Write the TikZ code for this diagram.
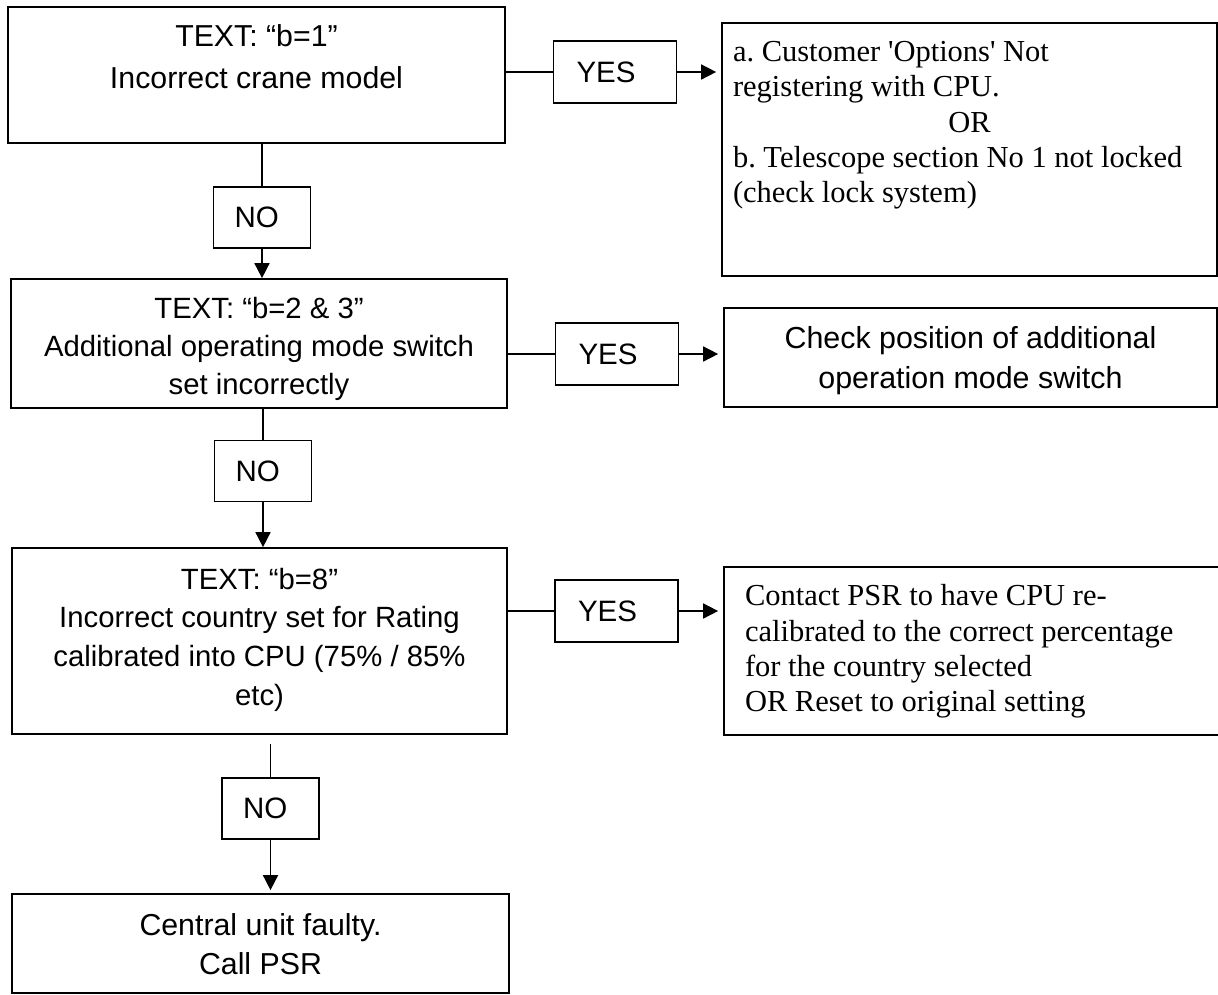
\documentclass[tikz,border=0pt]{standalone}
\usepackage{fontspec}
\newfontfamily\sansfam{Liberation Sans}
\newfontfamily\seriffam{Liberation Serif}[Ligatures=TeXOff]
\usetikzlibrary{arrows.meta}
\frenchspacing

% top-aligned text block: #1 height, #2 width, #3 first baseline from top, #4 alignment, #5 lines
\newcommand{\topbox}[5]{\parbox[c][#1][t]{#2}{#4\rule{0pt}{#3}#5}}

\tikzset{
  box/.style={draw, line width=1.7pt, rectangle, inner sep=0pt},
  tagbox/.style={draw, line width=1.7pt, rectangle, align=left, inner ysep=0pt,
    font=\sansfam\fontsize{29.5}{35}\selectfont},
  yesbox/.style={tagbox, minimum height=62pt, text width=77pt, inner xsep=23pt},
  nobox/.style={tagbox, minimum height=61pt, text width=55pt, inner xsep=21pt},
  conn/.style={line width=1.6pt},
  arr/.style={conn, -{Triangle[length=15pt,width=15pt]}},
}

\begin{document}
\begin{tikzpicture}[x=1pt, y=-1pt]
\useasboundingbox (0,0) rectangle (1218,994);

% decision boxes
\node[box, font=\sansfam\fontsize{30.3}{41.6}\selectfont] (b1) at (256.5,75)
  {\topbox{136pt}{497pt}{39.7pt}{\centering}{TEXT: “b=1”\\ Incorrect crane model}};
\node[box, font=\sansfam\fontsize{29.3}{38.3}\selectfont] (b2) at (259,343.5)
  {\topbox{129pt}{496pt}{39.3pt}{\centering}{TEXT: “b=2 \& 3”\\ Additional operating mode switch\\ set incorrectly}};
\node[box, font=\sansfam\fontsize{29.3}{38.6}\selectfont] (b3) at (259.5,641)
  {\topbox{186pt}{495pt}{41.3pt}{\centering}{TEXT: “b=8”\\ Incorrect country set for Rating\\ calibrated into CPU (75\% / 85\%\\ etc)}};
\node[box, font=\sansfam\fontsize{30.3}{39.3}\selectfont] (b4) at (260.5,943.5)
  {\topbox{99pt}{497pt}{41pt}{\centering}{Central unit faulty.\\ Call PSR}};

% remedy boxes
\node[box, font=\seriffam\fontsize{30.5}{35.2}\selectfont] (r1) at (969.5,149.5)
  {\topbox{253pt}{495pt}{38.7pt}{\raggedright\leftskip=11pt}{a. Customer 'Options' Not\\ registering with CPU.\par
   \centerline{OR}\par
   b. Telescope section No 1 not locked\\ (check lock system)}};
\node[box, font=\sansfam\fontsize{30.4}{40}\selectfont] (r2) at (970.5,357.5)
  {\topbox{99pt}{493pt}{40.3pt}{\centering}{Check position of additional\\ operation mode switch}};
\node[box, font=\seriffam\fontsize{30.5}{35.3}\selectfont] (r3) at (978,651)
  {\topbox{168pt}{508pt}{38.7pt}{\raggedright\leftskip=21pt}{Contact PSR to have CPU re-\\ calibrated to the correct percentage\\ for the country selected\\ OR Reset to original setting}};

% answer tags
\node[yesbox] (yes1) at (615,72) {YES};
\node[yesbox] (yes2) at (617,354) {YES};
\node[yesbox] (yes3) at (616.5,611) {YES};
\node[nobox] (no1) at (262,217.5) {NO};
\node[nobox] (no2) at (263,471) {NO};
\node[nobox] (no3) at (270.5,808.5) {NO};

% NO branches
\draw[conn] (b1.south -| no1) -- (no1.north);
\draw[arr] (no1.south) -- (b2.north -| no1);
\draw[conn] (b2.south -| no2) -- (no2.north);
\draw[arr] (no2.south) -- (b3.north -| no2);
\draw[conn, shorten <=9pt] (b3.south -| no3) -- (no3.north);
\draw[arr, shorten >=3pt] (no3.south) -- (b4.north -| no3);

% YES branches
\draw[conn] (yes1.west -| b1.east) -- (yes1.west);
\draw[arr, shorten >=5pt] (yes1.east) -- (yes1.east -| r1.west);
\draw[conn] (yes2.west -| b2.east) -- (yes2.west);
\draw[arr, shorten >=5pt] (yes2.east) -- (yes2.east -| r2.west);
\draw[conn] (yes3.west -| b3.east) -- (yes3.west);
\draw[arr, shorten >=5pt] (yes3.east) -- (yes3.east -| r3.west);
\end{tikzpicture}
\end{document}
